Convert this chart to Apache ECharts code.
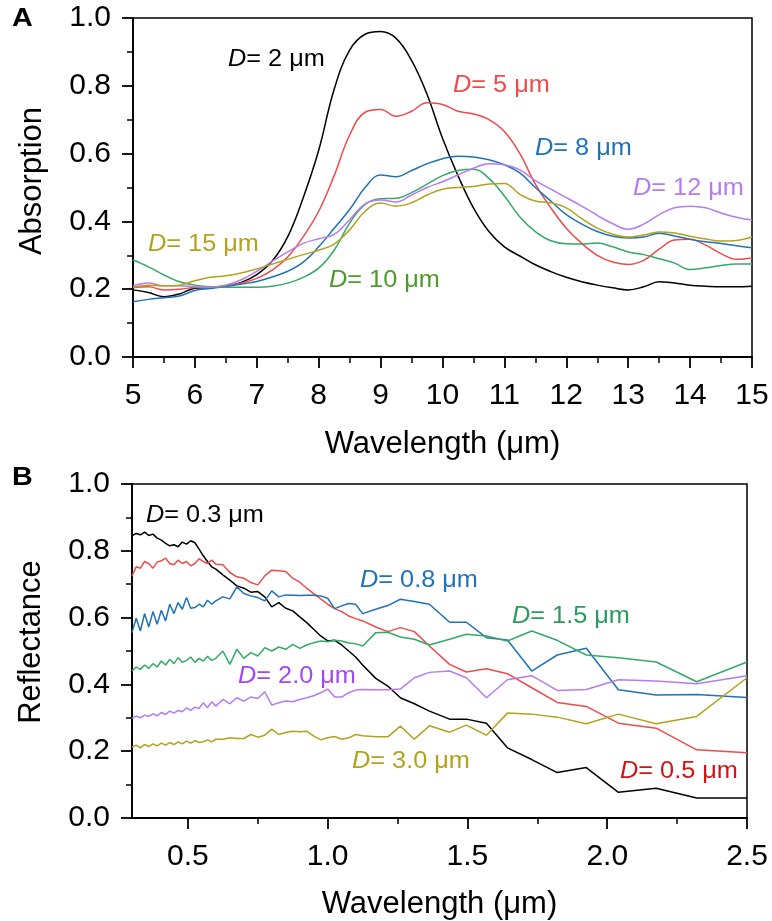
<!DOCTYPE html>
<html lang="en">
<head>
    <meta charset="UTF-8">
    <title>absorption / reflectance</title>
    <script src="https://cdn.jsdelivr.net/npm/echarts@6/dist/echarts.min.js"></script>
    <style>
        html, body { margin: 0; padding: 0; background: #fff; }
        #main { width: 772px; height: 921px; }
    </style>
</head>
<body>
<div id="main"></div>
<script>
    // panel A: wavelength 5-15 um
    var waveA = [5, 5.25, 5.5, 5.75, 6, 6.25, 6.5, 6.75, 7, 7.25, 7.5, 7.75, 8, 8.25, 8.5, 8.75,
        9, 9.25, 9.5, 9.75, 10, 10.25, 10.5, 10.75, 11, 11.25, 11.5, 11.75, 12, 12.25, 12.5, 12.75,
        13, 13.25, 13.5, 13.75, 14, 14.25, 14.5, 14.75, 15];
    var absD2 = [0.198, 0.19, 0.178, 0.186, 0.203, 0.205, 0.209, 0.22, 0.243, 0.283, 0.355, 0.47, 0.61, 0.79, 0.905, 0.952,
        0.96, 0.94, 0.875, 0.775, 0.645, 0.535, 0.44, 0.37, 0.325, 0.298, 0.272, 0.252, 0.235, 0.222, 0.212, 0.204,
        0.198, 0.207, 0.222, 0.218, 0.212, 0.209, 0.207, 0.207, 0.209];
    var absD5 = [0.205, 0.207, 0.198, 0.2, 0.205, 0.206, 0.21, 0.218, 0.232, 0.256, 0.295, 0.355, 0.43, 0.535, 0.655, 0.722,
        0.73, 0.71, 0.725, 0.75, 0.745, 0.725, 0.717, 0.7, 0.665, 0.6, 0.51, 0.44, 0.38, 0.335, 0.3, 0.28,
        0.273, 0.285, 0.318, 0.345, 0.347, 0.33, 0.305, 0.288, 0.292];
    var absD8 = [0.163, 0.17, 0.175, 0.18, 0.196, 0.202, 0.208, 0.215, 0.223, 0.236, 0.253, 0.28, 0.325, 0.38, 0.435, 0.5,
        0.537, 0.532, 0.55, 0.57, 0.585, 0.592, 0.59, 0.582, 0.567, 0.543, 0.5, 0.46, 0.42, 0.392, 0.37, 0.356,
        0.351, 0.354, 0.365, 0.357, 0.347, 0.34, 0.335, 0.328, 0.322];
    var absD10 = [0.286, 0.266, 0.242, 0.222, 0.212, 0.207, 0.206, 0.206, 0.206, 0.209, 0.218, 0.235, 0.262, 0.315, 0.395, 0.45,
        0.467, 0.468, 0.485, 0.51, 0.535, 0.55, 0.554, 0.527, 0.475, 0.413, 0.37, 0.343, 0.334, 0.333, 0.336, 0.325,
        0.31, 0.302, 0.29, 0.277, 0.258, 0.263, 0.27, 0.274, 0.274];
    var absD12 = [0.21, 0.218, 0.21, 0.21, 0.207, 0.206, 0.212, 0.228, 0.253, 0.282, 0.31, 0.335, 0.349, 0.362, 0.405, 0.452,
        0.463, 0.457, 0.478, 0.5, 0.517, 0.537, 0.557, 0.57, 0.567, 0.552, 0.52, 0.495, 0.47, 0.445, 0.418, 0.393,
        0.377, 0.392, 0.42, 0.44, 0.445, 0.44, 0.425, 0.412, 0.404];
    var absD15 = [0.206, 0.212, 0.21, 0.212, 0.225, 0.235, 0.24, 0.248, 0.26, 0.274, 0.288, 0.302, 0.315, 0.333, 0.375, 0.43,
        0.454, 0.445, 0.455, 0.478, 0.495, 0.5, 0.503, 0.51, 0.512, 0.48, 0.46, 0.455, 0.44, 0.408, 0.38, 0.362,
        0.354, 0.36, 0.369, 0.366, 0.356, 0.348, 0.342, 0.344, 0.354];

    // panel B: wavelength 0.3-2.5 um
    var waveB = [0.3, 0.315, 0.33, 0.345, 0.36, 0.375, 0.39, 0.405, 0.42, 0.435, 0.45, 0.465, 0.48, 0.495, 0.51, 0.525,
        0.54, 0.555, 0.57, 0.585, 0.6,
        0.625, 0.65, 0.675, 0.7, 0.725, 0.75, 0.775, 0.8, 0.825, 0.85, 0.875, 0.9, 0.925, 0.95, 0.975, 1.0,
        1.025, 1.05, 1.075, 1.1, 1.125,
        1.172, 1.215, 1.26, 1.31, 1.364, 1.436, 1.496, 1.568, 1.643, 1.73, 1.821, 1.925, 2.04, 2.175, 2.32, 2.5];
    var refD03 = [0.845, 0.852, 0.848, 0.856, 0.846, 0.85, 0.838, 0.832, 0.822, 0.815, 0.818, 0.812, 0.826, 0.82, 0.83, 0.824,
        0.805, 0.785, 0.768, 0.752, 0.745,
        0.728, 0.712, 0.695, 0.688, 0.676, 0.678, 0.662, 0.632, 0.645, 0.628, 0.62, 0.602, 0.585, 0.565, 0.545, 0.53,
        0.532, 0.518, 0.5, 0.482, 0.458,
        0.418, 0.395, 0.36, 0.342, 0.32, 0.296, 0.296, 0.284, 0.21, 0.175, 0.136, 0.151, 0.077, 0.089, 0.06, 0.06];
    var refD05 = [0.725, 0.752, 0.748, 0.768, 0.762, 0.748, 0.766, 0.77, 0.778, 0.762, 0.758, 0.772, 0.762, 0.768, 0.755, 0.762,
        0.776, 0.768, 0.762, 0.772, 0.76,
        0.758, 0.735, 0.722, 0.718, 0.705, 0.698, 0.725, 0.742, 0.74, 0.738, 0.718, 0.706, 0.688, 0.672, 0.656, 0.64,
        0.627, 0.618, 0.605, 0.597, 0.59,
        0.572, 0.558, 0.57, 0.558, 0.515, 0.46, 0.437, 0.447, 0.432, 0.39, 0.346, 0.334, 0.284, 0.269, 0.204, 0.195];
    var refD08 = [0.555, 0.598, 0.56, 0.612, 0.572, 0.618, 0.58, 0.622, 0.59, 0.64, 0.612, 0.645, 0.625, 0.66, 0.628, 0.63,
        0.64, 0.632, 0.652, 0.64, 0.65,
        0.662, 0.656, 0.692, 0.672, 0.665, 0.66, 0.65, 0.68, 0.662, 0.668, 0.667, 0.666, 0.667, 0.667, 0.665, 0.658,
        0.627, 0.635, 0.642, 0.64, 0.612,
        0.625, 0.636, 0.655, 0.648, 0.64, 0.586, 0.586, 0.54, 0.533, 0.44, 0.488, 0.508, 0.384, 0.368, 0.37, 0.361];
    var refD15 = [0.44, 0.452, 0.445, 0.458, 0.448, 0.462, 0.452, 0.47, 0.458, 0.475, 0.462, 0.48, 0.466, 0.472, 0.482, 0.466,
        0.478, 0.47, 0.484, 0.472, 0.478,
        0.5, 0.46, 0.505, 0.478, 0.495, 0.485, 0.51, 0.5, 0.512, 0.505, 0.52, 0.508, 0.518, 0.525, 0.53, 0.528,
        0.532, 0.53, 0.524, 0.522, 0.515,
        0.555, 0.556, 0.542, 0.535, 0.518, 0.535, 0.55, 0.545, 0.53, 0.56, 0.532, 0.488, 0.48, 0.467, 0.408, 0.467];
    var refD20 = [0.298, 0.305, 0.3, 0.308, 0.304, 0.312, 0.306, 0.316, 0.31, 0.32, 0.314, 0.322, 0.318, 0.33, 0.322, 0.332,
        0.328, 0.345, 0.33, 0.348, 0.335,
        0.355, 0.342, 0.36, 0.35, 0.362, 0.358, 0.378, 0.338, 0.345, 0.35, 0.348, 0.355, 0.36, 0.366, 0.375, 0.386,
        0.362, 0.362, 0.375, 0.383, 0.385,
        0.384, 0.384, 0.386, 0.42, 0.436, 0.44, 0.42, 0.36, 0.414, 0.426, 0.382, 0.385, 0.414, 0.41, 0.402, 0.426];
    var refD30 = [0.212, 0.218, 0.21, 0.22, 0.214, 0.222, 0.216, 0.224, 0.218, 0.226, 0.22, 0.228, 0.222, 0.23, 0.224, 0.232,
        0.226, 0.228, 0.234, 0.228, 0.236,
        0.236, 0.24, 0.238, 0.238, 0.25, 0.242, 0.248, 0.266, 0.25, 0.256, 0.26, 0.258, 0.26, 0.245, 0.234, 0.24,
        0.244, 0.236, 0.24, 0.25, 0.246,
        0.243, 0.243, 0.275, 0.236, 0.276, 0.257, 0.278, 0.248, 0.314, 0.311, 0.302, 0.282, 0.311, 0.282, 0.304, 0.42];

    var majorB = [0.5, 1.0, 1.5, 2.0, 2.5];
    var minorB = [0.75, 1.25, 1.75, 2.25];

    var FONT = 'Liberation Sans';
    var C = {
        black: '#000000', red: '#f04a4a', blue: '#1f72b8',
        green: '#33aa66', purple: '#b57cf0', olive: '#b2a21c'
    };

    function zip(xs, ys) {
        return xs.map(function (x, i) { return [x, ys[i]]; });
    }

    function line(name, xs, ys, color, idx, smooth) {
        return {
            name: name, type: 'line', xAxisIndex: idx, yAxisIndex: idx,
            data: zip(xs, ys), showSymbol: false, symbol: 'none',
            smooth: smooth, lineStyle: { color: color, width: 1.5 }
        };
    }

    function tag(text, x, y, color) {
        return {
            type: 'text', x: x, y: y, scaleX: 1.1,
            style: {
                text: '{i|D}' + text, fill: color, fontSize: 23, fontFamily: FONT,
                verticalAlign: 'middle', align: 'left',
                rich: { i: { fontStyle: 'italic', fontSize: 23, fontFamily: FONT, fill: color } }
            }
        };
    }

    var axisBlack = { color: '#000', width: 1.8 };
    function yAxis(idx, name, pad) {
        return {
            type: 'value', gridIndex: idx, min: 0, max: 1, interval: 0.2,
            axisLine: { show: true, lineStyle: axisBlack },
            axisTick: { show: true, length: 11, lineStyle: axisBlack },
            minorTick: { show: true, splitNumber: 2, length: 6, lineStyle: { color: '#000', width: 1.5 } },
            splitLine: { show: false },
            axisLabel: {
                fontSize: 30, color: '#000', margin: 22, fontFamily: FONT,
                formatter: function (v) { return v.toFixed(1); }
            },
            name: name, nameLocation: 'middle', nameGap: 85,
            nameTextStyle: { fontSize: 31, color: '#000', fontFamily: FONT, padding: [0, 0, 0, pad] }
        };
    }

    var chart = echarts.init(document.getElementById('main'), null, { renderer: 'canvas' });
    chart.setOption({
        animation: false,
        backgroundColor: '#fff',
        textStyle: { fontFamily: FONT },
        grid: [
            { left: 133, top: 18, width: 619, height: 339, show: true, borderColor: '#000', borderWidth: 1.5 },
            { left: 132, top: 484, width: 615, height: 338, show: true, borderColor: '#000', borderWidth: 1.5 }
        ],
        xAxis: [
            {
                type: 'value', gridIndex: 0, min: 5, max: 15, interval: 1,
                axisLine: { show: true, lineStyle: axisBlack },
                axisTick: { show: true, length: 11, lineStyle: axisBlack },
                minorTick: { show: true, splitNumber: 2, length: 6, lineStyle: { color: '#000', width: 1.5 } },
                splitLine: { show: false },
                axisLabel: { fontSize: 30, color: '#000', margin: 24, fontFamily: FONT },
                name: 'Wavelength (μm)', nameLocation: 'middle', nameGap: 72,
                nameTextStyle: { fontSize: 31, color: '#000', fontFamily: FONT }
            },
            {
                type: 'value', gridIndex: 1, min: 0.3, max: 2.5,
                axisLine: { show: true, lineStyle: axisBlack },
                axisTick: { show: true, length: 11, lineStyle: axisBlack, customValues: majorB },
                splitLine: { show: false },
                axisLabel: {
                    fontSize: 30, color: '#000', margin: 24, fontFamily: FONT, customValues: majorB,
                    formatter: function (v) { return v.toFixed(1); }
                },
                name: 'Wavelength (μm)', nameLocation: 'middle', nameGap: 71,
                nameTextStyle: { fontSize: 31, color: '#000', fontFamily: FONT }
            },
            {
                // short ticks between the labelled ones
                type: 'value', gridIndex: 1, min: 0.3, max: 2.5, position: 'bottom',
                axisLine: { show: false },
                axisTick: { show: true, length: 6, lineStyle: { color: '#000', width: 1.5 }, customValues: minorB },
                axisLabel: { show: false },
                splitLine: { show: false }
            }
        ],
        yAxis: [yAxis(0, 'Absorption', 13), yAxis(1, 'Reflectance', 18)],
        series: [
            line('D=2', waveA, absD2, C.black, 0, 0.4),
            line('D=5', waveA, absD5, C.red, 0, 0.4),
            line('D=8', waveA, absD8, C.blue, 0, 0.4),
            line('D=10', waveA, absD10, C.green, 0, 0.4),
            line('D=12', waveA, absD12, C.purple, 0, 0.4),
            line('D=15', waveA, absD15, C.olive, 0, 0.4),
            line('D=0.3', waveB, refD03, C.black, 1, false),
            line('D=0.5', waveB, refD05, C.red, 1, false),
            line('D=0.8', waveB, refD08, C.blue, 1, false),
            line('D=1.5', waveB, refD15, C.green, 1, false),
            line('D=2.0', waveB, refD20, C.purple, 1, false),
            line('D=3.0', waveB, refD30, C.olive, 1, false)
        ],
        graphic: [
            { type: 'text', x: 12, y: 19, scaleX: 1.15, style: { text: 'A', fontSize: 25, fontWeight: 'bold', fontFamily: FONT, fill: '#000', verticalAlign: 'middle' } },
            { type: 'text', x: 12, y: 478, scaleX: 1.15, style: { text: 'B', fontSize: 25, fontWeight: 'bold', fontFamily: FONT, fill: '#000', verticalAlign: 'middle' } },
            tag('= 2 μm', 228, 60, '#000'),
            tag('= 5 μm', 453, 86, C.red),
            tag('= 8 μm', 535, 149, C.blue),
            tag('= 12 μm', 633, 189, C.purple),
            tag('= 15 μm', 148, 245, C.olive),
            tag('= 10 μm', 329, 281, '#4d9a2a'),
            tag('= 0.3 μm', 146, 516, '#000'),
            tag('= 0.8 μm', 360, 581, C.blue),
            tag('= 1.5 μm', 512, 617, '#2a9a5e'),
            tag('= 2.0 μm', 238, 677, '#a347f2'),
            tag('= 3.0 μm', 352, 762, C.olive),
            tag('= 0.5 μm', 620, 772, '#d41414')
        ]
    });
</script>
</body>
</html>
